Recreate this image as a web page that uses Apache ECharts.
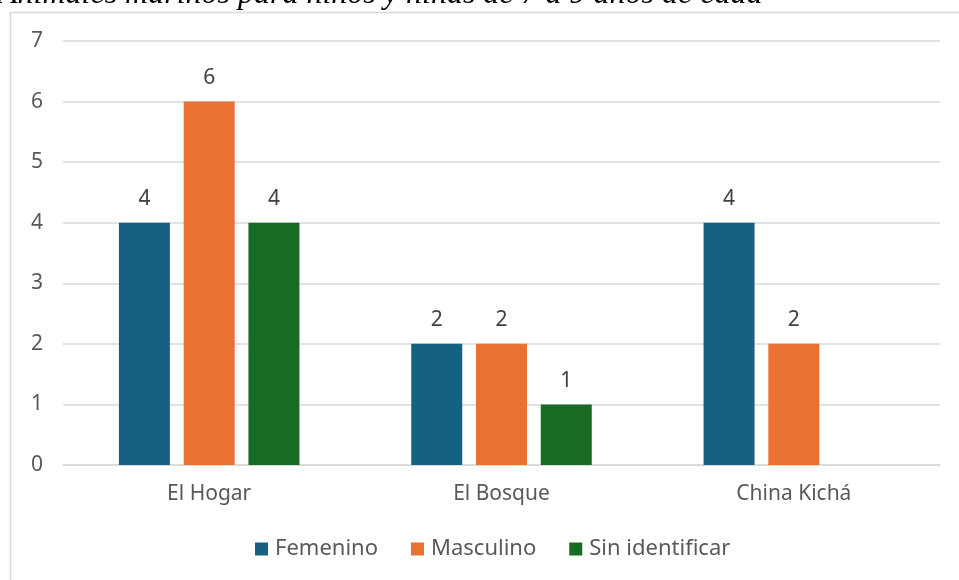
<!DOCTYPE html>
<html>
<head>
<meta charset="utf-8">
<script src="https://cdn.jsdelivr.net/npm/echarts@6/dist/echarts.min.js"></script>
<style>
  html, body { margin: 0; padding: 0; background: #fff; }
  #chart { width: 959px; height: 580px; }
</style>
</head>
<body>
<div id="chart"></div>
<script>
var titulo = 'Animales marinos para niños y niñas de 7 a 9 años de edad';
var categorias = ['El Hogar', 'El Bosque', 'China Kichá'];
var femenino = [4, 2, 4];
var masculino = [6, 2, 2];
var sinIdentificar = [4, 1, null];
var colores = ['#166083', '#e97132', '#196b24'];

var fuente = '"Noto Sans", Roboto, sans-serif';
var etiqueta = {
    show: true,
    position: 'top',
    distance: 13,
    color: '#404040',
    fontSize: 21,
    fontFamily: fuente
};

function serie(nombre, datos, color) {
    return {
        name: nombre,
        type: 'bar',
        data: datos,
        barWidth: 51,
        barGap: '27%',
        itemStyle: { color: color },
        label: etiqueta
    };
}

var myChart = echarts.init(document.getElementById('chart'));
myChart.setOption({
    animation: false,
    textStyle: { fontFamily: fuente },
    grid: { left: 63, right: 19, top: 41, bottom: 115 },
    legend: {
        bottom: 15,
        left: 250,
        itemWidth: 13,
        itemHeight: 13,
        itemGap: 33,
        icon: 'rect',
        textStyle: { color: '#595959', fontSize: 22, fontFamily: fuente, padding: [0, 0, 0, 2] },
        data: ['Femenino', 'Masculino', 'Sin identificar']
    },
    xAxis: {
        type: 'category',
        data: categorias,
        axisTick: { show: false },
        axisLine: { lineStyle: { color: '#d9d9d9', width: 1.5 } },
        axisLabel: { color: '#595959', fontSize: 21, fontFamily: fuente, margin: 19 }
    },
    yAxis: {
        type: 'value',
        min: 0,
        max: 7,
        interval: 1,
        axisLabel: { color: '#595959', fontSize: 21, fontFamily: fuente, margin: 20 },
        splitLine: { lineStyle: { color: '#d9d9d9', width: 1.5 } }
    },
    series: [
        serie('Femenino', femenino, colores[0]),
        serie('Masculino', masculino, colores[1]),
        serie('Sin identificar', sinIdentificar, colores[2])
    ],
    graphic: [
        {
            type: 'rect',
            shape: { x: 10.5, y: 12.5, width: 960, height: 600 },
            style: { fill: 'none', stroke: '#d9d9d9', lineWidth: 1.5 },
            silent: true
        },
        {
            type: 'text',
            left: -2,
            top: -21,
            style: {
                text: titulo,
                font: 'italic 32px "Liberation Serif", "DejaVu Serif", serif',
                fill: '#000'
            },
            silent: true
        }
    ]
});
</script>
</body>
</html>
